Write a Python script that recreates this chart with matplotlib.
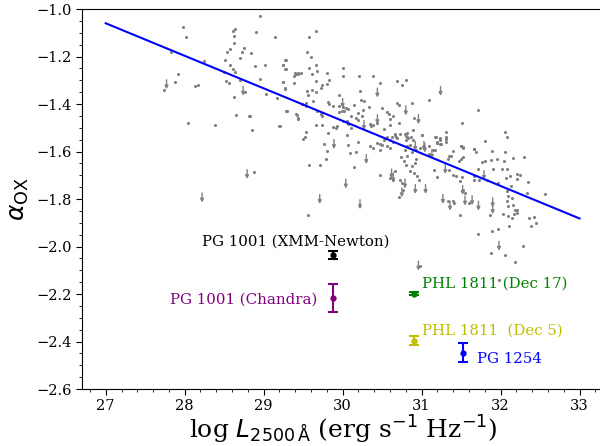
import matplotlib
matplotlib.use("Agg")
import matplotlib.pyplot as plt
import numpy as np

plt.rcParams['font.family'] = 'DejaVu Serif'
plt.rcParams['mathtext.fontset'] = 'dejavusans'

# detections (log L2500, alpha_ox)
det_x = [27.98, 28.02, 28.95, 28.90, 28.64, 28.61, 28.63, 28.63, 29.14, 27.83, 28.53, 28.57,
         28.75, 28.73, 28.84, 28.70, 28.51, 28.24, 28.58, 28.61, 28.64, 28.50, 28.89, 29.02,
         29.24, 29.28, 29.27, 29.41, 29.44, 27.91, 27.88, 27.74, 28.13, 28.17, 28.52, 28.56,
         28.70, 28.96, 29.24, 29.38, 29.27, 28.77, 28.62, 29.03, 29.17, 29.28, 29.41, 29.44,
         28.65, 28.81, 28.83, 28.04, 28.38, 29.20, 28.85,
         29.66, 29.57, 29.55, 29.60, 29.27, 29.24, 29.28, 29.66, 29.57, 29.67, 29.40, 29.43,
         29.47, 29.39, 29.61, 29.80, 30.01, 30.01, 30.21, 30.38, 29.83, 29.66, 29.24, 29.74,
         29.72, 29.80, 30.69, 30.75, 30.80, 30.47, 29.27, 29.55, 29.61, 29.66, 29.56, 30.22,
         29.96, 30.23, 30.27, 31.09, 29.62, 29.48, 29.53, 29.54, 29.81, 29.83, 29.88, 29.96,
         30.00, 30.04, 30.07, 30.15, 30.34, 30.69, 30.71, 30.88, 31.71, 29.29, 29.67, 29.95,
         29.99, 30.02, 30.19, 30.26, 30.50, 30.56, 30.59, 29.42, 29.44, 29.73, 29.74, 30.10,
         30.17, 30.19, 30.24, 30.64, 30.60, 30.90, 30.01, 30.05, 30.07, 30.35, 30.36, 30.39,
         30.44, 30.71, 30.60, 31.51, 29.21, 29.66, 29.74, 29.88, 29.91, 29.93, 30.10, 30.52,
         30.89, 29.54, 29.81, 30.05, 30.66, 30.62, 30.60, 30.64, 30.79, 30.81, 30.80, 30.83,
         31.01, 31.18, 31.19, 31.23, 31.23, 31.31, 31.31, 29.50, 29.52, 30.19, 30.35, 30.38,
         30.43, 30.47, 29.77, 30.07, 31.50, 31.53, 31.66, 30.56, 30.60,
         30.50, 30.47, 29.80, 30.09, 30.17, 29.79, 29.58, 29.71, 30.15, 29.56, 30.47,
         31.31, 31.17, 31.23, 31.19, 31.25, 31.31, 31.00, 31.09, 31.17, 31.80, 32.06, 32.08,
         31.50, 31.53, 31.66, 31.69, 31.89, 32.05, 31.40, 31.35, 31.33, 31.37, 31.53, 31.50,
         31.47, 31.77, 31.80, 31.88, 31.96, 32.04, 32.16, 32.30, 31.16, 31.35, 31.72, 31.91,
         32.02, 32.08, 31.20, 31.40, 31.44, 31.49, 31.51, 31.66, 31.66, 31.73, 31.83, 31.97,
         32.07, 32.12, 32.21, 32.25, 32.21, 32.35, 32.13, 31.55, 31.53, 31.34, 31.40, 31.41,
         31.60, 32.08, 32.09, 32.08, 32.14, 32.10, 32.16, 32.18, 32.21, 32.17, 32.21, 32.03,
         32.10, 32.15, 31.87, 31.49, 32.36, 32.42, 32.45, 32.39, 32.56, 32.34, 32.11, 31.97,
         31.89, 31.71, 32.28, 31.88, 32.06, 32.18, 30.98, 29.55, 31.98, 28.88,
         30.52, 30.56, 30.66, 30.68, 30.69, 30.73, 30.80, 30.81, 30.86, 30.89, 30.85, 30.81,
         30.79, 30.88, 30.93, 30.98, 31.10, 31.15, 31.19, 31.23, 30.78, 30.80, 30.88, 30.92,
         30.93, 30.81, 30.74, 30.66, 30.60, 30.64, 30.73, 30.75, 30.85, 30.90, 30.94, 30.97,
         30.77, 30.71]
det_y = [-1.074, -1.116, -1.028, -1.095, -1.084, -1.091, -1.113, -1.144, -1.119, -1.182, -1.179, -1.169,
         -1.165, -1.179, -1.186, -1.205, -1.216, -1.218, -1.237, -1.251, -1.266, -1.265, -1.241, -1.235,
         -1.235, -1.214, -1.253, -1.273, -1.268, -1.273, -1.307, -1.340, -1.324, -1.321, -1.304, -1.310,
         -1.300, -1.296, -1.307, -1.311, -1.335, -1.349, -1.371, -1.358, -1.373, -1.430, -1.443, -1.461,
         -1.447, -1.452, -1.450, -1.478, -1.487, -1.492, -1.510,
         -1.092, -1.116, -1.182, -1.200, -1.214, -1.235, -1.252, -1.237, -1.249, -1.261, -1.270, -1.272,
         -1.270, -1.284, -1.273, -1.268, -1.249, -1.282, -1.284, -1.282, -1.297, -1.305, -1.308, -1.319,
         -1.331, -1.317, -1.305, -1.319, -1.300, -1.312, -1.333, -1.345, -1.343, -1.349, -1.361, -1.345,
         -1.361, -1.382, -1.387, -1.382, -1.387, -1.401, -1.408, -1.396, -1.390, -1.400, -1.408, -1.408,
         -1.413, -1.415, -1.421, -1.405, -1.413, -1.396, -1.403, -1.396, -1.424, -1.429, -1.430, -1.433,
         -1.430, -1.430, -1.436, -1.427, -1.417, -1.434, -1.441, -1.445, -1.462, -1.443, -1.452, -1.450,
         -1.458, -1.466, -1.452, -1.452, -1.462, -1.459, -1.473, -1.473, -1.484, -1.483, -1.494, -1.490,
         -1.478, -1.478, -1.490, -1.478, -1.492, -1.490, -1.490, -1.497, -1.501, -1.492, -1.499, -1.506,
         -1.508, -1.518, -1.520, -1.529, -1.529, -1.539, -1.550, -1.558, -1.528, -1.537, -1.550, -1.543,
         -1.532, -1.537, -1.558, -1.550, -1.567, -1.541, -1.560, -1.548, -1.537, -1.562, -1.576, -1.584,
         -1.565, -1.569, -1.567, -1.571, -1.578, -1.585, -1.588, -1.578, -1.587,
         -1.571, -1.592, -1.598, -1.607, -1.600, -1.630, -1.658, -1.658, -1.665, -1.868, -1.697,
         -1.518, -1.537, -1.546, -1.565, -1.569, -1.546, -1.529, -1.609, -1.595, -1.555, -1.518, -1.537,
         -1.578, -1.583, -1.590, -1.604, -1.597, -1.601, -1.597, -1.618, -1.632, -1.618, -1.623, -1.632,
         -1.641, -1.646, -1.639, -1.637, -1.632, -1.639, -1.627, -1.625, -1.676, -1.676, -1.674, -1.674,
         -1.674, -1.674, -1.707, -1.697, -1.704, -1.723, -1.707, -1.704, -1.718, -1.718, -1.718, -1.732,
         -1.711, -1.704, -1.693, -1.697, -1.716, -1.730, -1.747, -1.774, -1.761, -1.809, -1.809, -1.818,
         -1.816, -1.768, -1.789, -1.807, -1.795, -1.831, -1.824, -1.845, -1.858, -1.862, -1.845, -1.862,
         -1.873, -1.880, -1.868, -1.868, -1.880, -1.875, -1.903, -1.912, -1.781, -1.774, -1.912, -1.926,
         -1.933, -1.947, -1.996, -2.027, -2.035, -2.066, -2.080, -1.990, -2.142, -1.686,
         -1.550, -1.539, -1.525, -1.537, -1.543, -1.525, -1.534, -1.520, -1.537, -1.550, -1.571, -1.578,
         -1.592, -1.600, -1.592, -1.585, -1.578, -1.592, -1.565, -1.543, -1.641, -1.655, -1.662, -1.648,
         -1.632, -1.620, -1.623, -1.684, -1.711, -1.718, -1.718, -1.732, -1.684, -1.690, -1.704, -1.718,
         -1.761, -1.793]

# upper limits
lim_x = [27.77, 28.74, 30.44, 31.24, 30.00, 30.80, 30.44, 30.96, 30.27, 30.92, 31.04, 29.89,
         30.30, 30.04, 29.71, 30.22, 31.03, 31.13, 31.30, 31.79, 31.05, 31.52, 31.27, 31.36,
         31.55, 31.64, 31.72, 31.90, 31.90, 31.98, 30.96, 28.79, 28.22,
         30.62, 30.64, 30.79, 30.92, 30.75]
lim_y = [-1.298, -1.325, -1.333, -1.326, -1.377, -1.408, -1.445, -1.445, -1.470, -1.558, -1.565, -1.550,
         -1.613, -1.716, -1.781, -1.803, -1.557, -1.592, -1.655, -1.680, -1.739, -1.743, -1.781, -1.809,
         -1.788, -1.786, -1.809, -1.795, -1.824, -1.978, -2.062, -1.676, -1.775,
         -1.674, -1.690, -1.716, -1.739, -1.753]

# best-fit relation
fit_x = [27.0, 33.0]
fit_y = [-1.06, -1.882]

# individual sources
src_names = ['PG 1001 (XMM-Newton)', 'PG 1001 (Chandra)', 'PHL 1811 (Dec 17)', 'PHL 1811  (Dec 5)', 'PG 1254']
src_x = [29.88, 29.88, 30.90, 30.90, 31.53]
src_y = [-2.036, -2.216, -2.198, -2.396, -2.447]
src_err = [0.015, 0.06, 0.008, 0.02, 0.04]
src_colors = ['black', 'purple', 'green', 'y', 'blue']
lab_x = [28.22, 27.82, 31.00, 31.00, 31.70]
lab_y = [-1.978, -2.225, -2.155, -2.356, -2.472]

fig = plt.figure(figsize=(6.0, 4.46), dpi=100)
ax = fig.add_axes([0.1367, 0.1278, 0.8700, 0.852])

ax.scatter(det_x, det_y, s=5, color='gray', linewidths=0, zorder=2)
for x, y in zip(lim_x, lim_y):
    ax.annotate('', xy=(x, y - 0.04), xytext=(x, y),
                arrowprops=dict(arrowstyle='-|>', color='gray', lw=1.0,
                                mutation_scale=5, shrinkA=0, shrinkB=0), zorder=2)

ax.plot(fit_x, fit_y, color='blue', lw=1.5, zorder=3)

for name, x, y, e, c, lx, ly in zip(src_names, src_x, src_y, src_err, src_colors, lab_x, lab_y):
    ax.errorbar([x], [y], yerr=[e], fmt='o', color=c, ms=3.5, capsize=3.5,
                elinewidth=1.5, capthick=1.5, zorder=4)
    ax.text(lx, ly, name, color=c, fontsize=10.8, va='center', ha='left', zorder=5)

ax.set_xlim(26.70, 33.31)
ax.set_ylim(-2.6, -1.0)
ax.set_xticks(np.arange(27, 34, 1))
ax.set_xticks(np.arange(26.8, 33.31, 0.2), minor=True)
ax.set_yticks(np.arange(-2.6, -0.99, 0.2))
ax.set_yticks(np.arange(-2.6, -0.99, 0.05), minor=True)
ax.tick_params(which='both', direction='out', labelsize=10.5)
ax.tick_params(which='major', length=4)
ax.tick_params(which='minor', length=2.5)
ax.spines['right'].set_visible(False)

ax.set_xlabel(r'log $L_{2500\,\mathrm{\AA}}$ (erg s$^{-1}$ Hz$^{-1}$)', fontsize=18, labelpad=0)
ax.set_ylabel(r'$\alpha_{\mathrm{OX}}$', fontsize=18, labelpad=4)

fig.savefig('out.png', dpi=100)
